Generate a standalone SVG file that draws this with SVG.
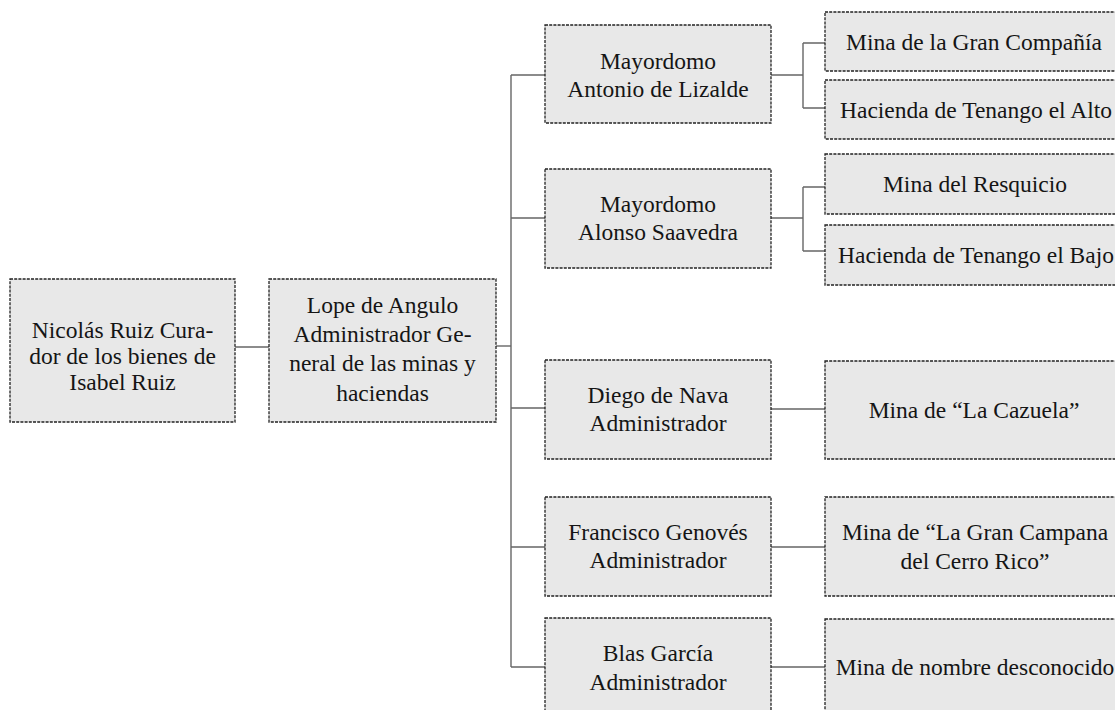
<svg xmlns="http://www.w3.org/2000/svg" width="1115" height="710" viewBox="0 0 1115 710">
<style>
.box{fill:#e8e8e8;stroke:#222222;stroke-width:1.3;stroke-dasharray:3 1.2}
.t{font-family:"Liberation Serif","Times New Roman",serif;font-size:23.5px;fill:#151515;text-anchor:middle}
.c{fill:none;stroke:#666666;stroke-width:1.4}
</style>
<rect width="1115" height="710" fill="#ffffff"/>
<g id="connectors">
<path class="c" d="M235 347H269"/>
<path class="c" d="M496 346H511"/>
<path class="c" d="M511 75V667"/>
<path class="c" d="M511 75H545M511 218H545M511 408H545M511 547H545M511 667H545"/>
<path class="c" d="M771 75H803M803 43V108M803 43H825M803 108H825"/>
<path class="c" d="M771 218H803M803 187V251M803 187H825M803 251H825"/>
<path class="c" d="M771 409H825M771 547H825M771 667H825"/>
</g>
<g id="n-nicolas">
<rect class="box" x="10" y="279" width="225" height="143"/>
<text class="t" x="122.5" y="338">Nicolás Ruiz Cura-</text>
<text class="t" x="122.5" y="364">dor de los bienes de</text>
<text class="t" x="122.5" y="390">Isabel Ruiz</text>
</g>
<g id="n-lope">
<rect class="box" x="269" y="279" width="227" height="143"/>
<text class="t" x="382.5" y="313">Lope de Angulo</text>
<text class="t" x="382.5" y="342">Administrador Ge-</text>
<text class="t" x="382.5" y="371">neral de las minas y</text>
<text class="t" x="382.5" y="401">haciendas</text>
</g>
<g id="n-antonio">
<rect class="box" x="545" y="25" width="226" height="98"/>
<text class="t" x="658" y="69">Mayordomo</text>
<text class="t" x="658" y="97">Antonio de Lizalde</text>
</g>
<g id="n-alonso">
<rect class="box" x="545" y="169" width="226" height="99"/>
<text class="t" x="658" y="212">Mayordomo</text>
<text class="t" x="658" y="240">Alonso Saavedra</text>
</g>
<g id="n-diego">
<rect class="box" x="545" y="360" width="226" height="99"/>
<text class="t" x="658" y="403">Diego de Nava</text>
<text class="t" x="658" y="431">Administrador</text>
</g>
<g id="n-francisco">
<rect class="box" x="545" y="497" width="226" height="99"/>
<text class="t" x="658" y="540">Francisco Genovés</text>
<text class="t" x="658" y="568">Administrador</text>
</g>
<g id="n-blas">
<rect class="box" x="545" y="618" width="226" height="100"/>
<text class="t" x="658" y="661">Blas García</text>
<text class="t" x="658" y="690">Administrador</text>
</g>
<g id="n-compania">
<rect class="box" x="825" y="12" width="300" height="59"/>
<text class="t" x="974" y="50">Mina de la Gran Compañía</text>
</g>
<g id="n-alto">
<rect class="box" x="825" y="80" width="300" height="59"/>
<text class="t" x="976" y="118">Hacienda de Tenango el Alto</text>
</g>
<g id="n-resquicio">
<rect class="box" x="825" y="154" width="300" height="60"/>
<text class="t" x="975" y="192">Mina del Resquicio</text>
</g>
<g id="n-bajo">
<rect class="box" x="825" y="225" width="300" height="60"/>
<text class="t" x="976" y="263">Hacienda de Tenango el Bajo</text>
</g>
<g id="n-cazuela">
<rect class="box" x="825" y="361" width="300" height="98"/>
<text class="t" x="974" y="418">Mina de “La Cazuela”</text>
</g>
<g id="n-campana">
<rect class="box" x="825" y="497" width="300" height="99"/>
<text class="t" x="975" y="540">Mina de “La Gran Campana</text>
<text class="t" x="975" y="569">del Cerro Rico”</text>
</g>
<g id="n-desconocido">
<rect class="box" x="825" y="619" width="300" height="100"/>
<text class="t" x="975" y="675">Mina de nombre desconocido</text>
</g>
</svg>
